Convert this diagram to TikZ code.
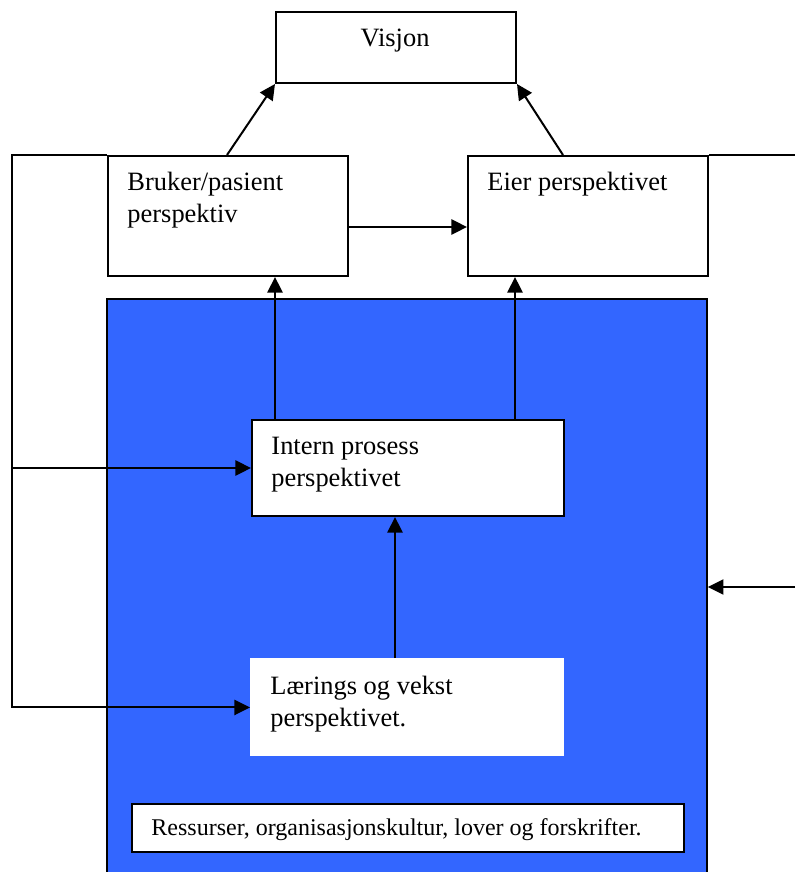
\documentclass[tikz,border=0pt]{standalone}
\usepackage{fontspec}
\setmainfont{Liberation Serif}
\usetikzlibrary{arrows.meta}
\definecolor{panelblue}{HTML}{3366FF}
\begin{document}
\begin{tikzpicture}[x=0.45pt,y=-0.45pt,
  box/.style={draw, line width=0.9pt, fill=white, inner sep=0pt, anchor=north west},
  plainbox/.style={fill=white, inner sep=0pt, anchor=north west},
  txt/.style={anchor=base west, inner sep=0pt, align=left,
    font=\fontsize{11.9pt}{14.4pt}\selectfont},
  smalltxt/.style={anchor=base west, inner sep=0pt,
    font=\fontsize{10.8pt}{13pt}\selectfont},
  wire/.style={line width=0.9pt},
  conn/.style={line width=0.9pt, -{Triangle[length=7pt,width=6.8pt]}}]

\useasboundingbox (0,0) rectangle (795,872);

% blue panel, open at the bottom
\fill[panelblue] (107,299) rectangle (707,900);
\node[inner sep=0pt, anchor=north west, minimum width=270pt, minimum height=270.45pt]
  (panel) at (107,299) {};
\draw[wire] (107,900) -- (107,299) -- (707,299) -- (707,900);

% boxes
\node[box, minimum width=108pt, minimum height=31.95pt] (visjon) at (275,11) {};
\node[box, minimum width=108pt, minimum height=54pt] (bruker) at (107,155) {};
\node[box, minimum width=108pt, minimum height=54pt] (eier) at (467,155) {};
\node[box, minimum width=140.4pt, minimum height=43.2pt] (intern) at (251,419) {};
\node[plainbox, minimum width=141.3pt, minimum height=44.1pt] (laer) at (250,658) {};
\node[box, minimum width=248.4pt, minimum height=21.6pt] (ress) at (131,803) {};

% texts (base anchor of a two-line node sits on its last line)
\node[txt, anchor=base] (tvisjon) at (395,47) {Visjon};
\node[txt] (tbruker) at (127,222) {Bruker/pasient\\perspektiv};
\node[txt] (teier) at (487,191) {Eier perspektivet};
\node[txt] (tintern) at (271,486) {Intern prosess\\perspektivet};
\node[txt] (tlaer) at (270,726) {Lærings og vekst\\perspektivet.};
\node[smalltxt] (tress) at (151,835) {Ressurser, organisasjonskultur, lover og forskrifter.};

% helper coordinates
\coordinate (lt) at (12,155);
\coordinate (rt) at (795,155);
\coordinate (rfeed) at (795,587);
\coordinate (mid) at (0,227);
\coordinate (bv) at (227,155);
\coordinate (ev) at (563,155);
\coordinate (colA) at (275,0);
\coordinate (colB) at (515,0);
\coordinate (colC) at (395,0);

% connectors
\draw[conn] (bv) -- (visjon.south west);
\draw[conn] (ev) -- (visjon.south east);
\draw[conn] (bruker.east |- mid) -- (eier.west |- mid);
\draw[conn] (intern.north -| colA) -- (bruker.south -| colA);
\draw[conn] (intern.north -| colB) -- (eier.south -| colB);
\draw[conn] (laer.north -| colC) -- (intern.south -| colC);
\draw[conn] (bruker.north west) -- (lt) -- (lt |- laer.west) -- (laer.west);
\draw[conn] (lt |- intern.west) -- (intern.west);
\draw[wire] (eier.north east) -- (rt);
\draw[conn] (rfeed) -- (rfeed -| panel.east);
\end{tikzpicture}
\end{document}
